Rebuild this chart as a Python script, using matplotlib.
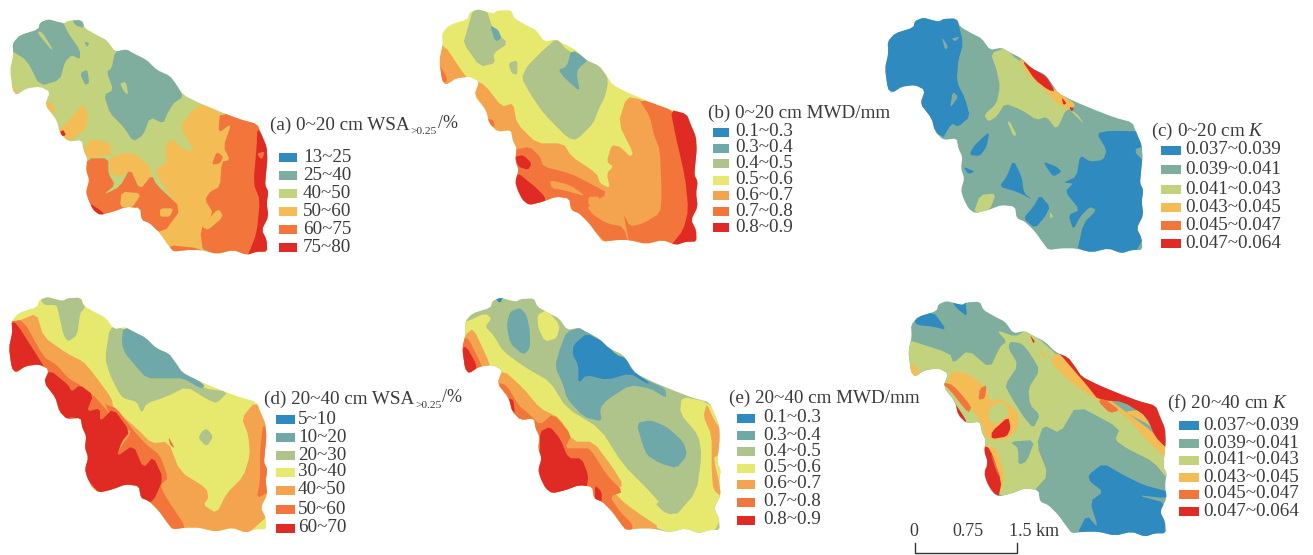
import matplotlib
matplotlib.use('Agg')
import matplotlib.pyplot as plt
from matplotlib.patches import Polygon, Rectangle
import numpy as np

plt.rcParams['font.family'] = ['Liberation Serif', 'DejaVu Sans']
plt.rcParams['mathtext.fontset'] = 'custom'
plt.rcParams['mathtext.rm'] = 'Liberation Serif'
plt.rcParams['mathtext.it'] = 'Liberation Serif:italic'

BLUE = '#2f8abf'
TEAL = '#7fae9f'
TEAL2 = '#6fa8a8'
LGREEN = '#c3d27c'
SAGE = '#aec48a'
YEL = '#e7e86e'
GOLD = '#f4bc55'
LOR = '#f4a44f'
ORG = '#f2763b'
RED = '#e02b24'

# catchment outline, in pixels of the 3x crop of panel a
outline = [(38,130),(60,105),(115,88),(120,68),(145,58),(170,65),(192,70),(205,62),(245,60),(255,85),
           (290,105),(320,120),(345,155),(380,148),(400,160),(440,180),(470,210),(510,228),(530,255),(550,285),
           (600,310),(660,335),(720,358),(772,372),(785,405),(800,440),(802,480),(798,520),(795,555),(805,575),
           (800,610),(805,650),(785,690),(800,720),(802,755),(770,755),(740,765),(700,750),(650,762),(600,750),
           (560,750),(520,755),(505,735),(480,700),(450,670),(425,660),(420,625),(380,620),(340,635),(300,645),
           (280,630),(265,600),(258,575),(268,540),(258,510),(262,475),(250,450),(245,420),(205,425),(180,400),
           (170,360),(135,315),(150,275),(120,260),(80,265),(50,285),(38,270),(30,210),(40,165)]

zones_a = [
    (GOLD, [(600,310),(660,335),(700,400),(660,620),(605,760),(500,745),(470,700),(540,630),(460,510),(500,490),(495,440),(515,415),(560,455),(580,450),(540,380),(570,340)]),
    (GOLD, [(330,470),(400,455),(460,510),(430,575),(390,510),(360,530),(330,520)]),
    (GOLD, [(250,450),(275,415),(330,430),(335,465),(290,470),(260,475)]),
    (GOLD, [(200,370),(250,310),(265,350),(255,390),(205,425),(175,390)]),
    (GOLD, [(25,245),(60,285),(25,295)]),
    (GOLD, [(135,310),(155,305),(170,345),(140,325)]),
    (TEAL, [(20,130),(60,105),(115,88),(120,55),(170,55),(192,72),(205,100),(240,150),(240,178),(215,165),(195,185),(180,240),(120,258),(80,180),(30,150)]),
    (TEAL, [(215,55),(255,55),(250,85),(225,75)]),
    (TEAL, [(345,155),(380,140),(440,175),(470,205),(510,222),(530,255),(550,290),(520,310),(500,345),(490,370),(450,352),(430,405),(400,425),(370,380),(330,340),(312,285),(340,270),(320,215),(335,205)]),
    (TEAL, [(240,220),(262,208),(268,250),(255,255)]),
    (TEAL, [(252,125),(268,128),(262,142)]),
    (LGREEN, [(360,250),(378,245),(385,285),(372,275)]),
    (LGREEN, [(110,95),(125,95),(160,150),(150,145)]),
    (ORG, [(660,335),(772,372),(815,400),(815,775),(610,760),(600,690),(640,640),(615,600),(630,575),(660,560),(665,485),(690,480),(670,440),(695,370),(655,400)]),
    (GOLD, [(605,680),(655,625),(670,650),(625,690)]),
    (ORG, [(635,495),(650,455),(670,470),(660,490)]),
    (RED, [(772,385),(790,410),(815,450),(815,775),(740,775),(770,700),(780,600),(760,550),(770,440)]),
    (ORG, [(770,460),(795,455),(785,480)]),
    (ORG, [(262,475),(325,475),(325,520),(345,555),(310,585),(360,560),(390,505),(420,570),(455,525),(470,555),(545,625),(490,700),(425,670),(420,620),(380,630),(340,650),(290,650),(245,580),(255,530)]),
    (GOLD, [(365,575),(425,580),(395,625),(360,620)]),
    (GOLD, [(480,625),(520,625),(510,650),(480,650)]),
    (RED, [(270,610),(300,630),(315,645),(285,655),(265,640)]),
    (RED, [(180,395),(190,390),(198,405),(185,410)]),
    (ORG, [(505,735),(600,745),(610,770),(510,770)]),
]

zones_b = [
    (LOR, [(40,100),(110,205),(130,210),(165,225),(215,290),(250,280),(260,340),(320,400),(400,400),(425,440),(500,490),(510,520),(540,535),(530,490),(550,470),(530,455),(545,405),(570,410),(600,440),(610,430),(565,340),(590,260),(640,270),(680,330),(720,700),(0,700),(0,120)]),
    (ORG, [(625,265),(730,300),(810,400),(810,710),(600,710),(580,610),(600,650),(640,640),(690,610),(695,560),(690,420),(670,370),(660,320)]),
    (ORG, [(250,420),(300,410),(330,440),(340,470),(420,490),(480,520),(535,550),(470,590),(490,615),(530,640),(580,650),(600,710),(530,700),(480,650),(430,610),(415,570),(345,585),(280,590),(240,520)]),
    (LOR, [(360,510),(420,525),(470,560),(400,540),(365,535)]),
    (LOR, [(475,560),(510,560),(500,590),(475,585)]),
    (RED, [(722,300),(770,305),(810,380),(810,710),(720,710),(760,660),(775,600),(765,500),(735,370)]),
    (RED, [(255,440),(280,435),(305,460),(295,480),(265,470)]),
    (RED, [(265,490),(290,510),(315,530),(345,560),(345,585),(280,590),(240,520)]),
    (ORG, [(20,150),(55,210),(30,230),(15,200)]),
    (ORG, [(170,325),(190,330),(195,350),(180,350)]),
    (SAGE, [(110,65),(130,-5),(170,0),(190,60),(235,100),(190,130),(195,160),(150,170),(100,100)]),
    (SAGE, [(235,160),(262,150),(262,195),(245,190)]),
    (SAGE, [(340,120),(380,85),(410,120),(475,150),(520,165),(535,215),(525,260),(505,300),(490,340),(440,390),(415,385),(340,310),(300,250),(275,205),(290,170)]),
    (TEAL2, [(180,45),(205,60),(215,85),(195,95)]),
    (TEAL2, [(425,118),(475,150),(445,175),(440,195),(450,245),(405,205),(385,180),(410,170)]),
]

zones_c = [
    (BLUE, [(0,60),(150,10),(260,20),(280,100),(265,150),(260,215),(285,265),(300,320),(265,350),(245,340),(215,390),(150,290),(165,240),(70,250),(0,200)]),
    (TEAL, [(215,80),(235,110),(225,120)]),
    (TEAL, [(245,85),(270,80),(255,95)]),
    (TEAL, [(248,245),(265,260),(240,295)]),
    (LGREEN, [(362,130),(410,112),(430,140),(460,160),(490,185),(555,255),(600,300),(645,345),(620,310),(590,295),(560,360),(530,320),(500,330),(455,300),(405,280),(380,320),(355,335),(342,315),(380,280),(390,230),(380,180)]),
    (GOLD, [(445,140),(490,175),(555,240),(620,285),(595,300),(560,280),(520,235),(470,190)]),
    (RED, [(455,150),(495,180),(530,200),(555,245),(535,240),(495,210)]),
    (RED, [(575,262),(590,280),(580,285)]),
    (RED, [(598,290),(612,295),(605,305)]),
    (LGREEN, [(412,335),(420,335),(440,375),(430,378)]),
    (LGREEN, [(310,610),(330,555),(378,550),(360,600)]),
    (LGREEN, [(540,605),(550,620),(540,625)]),
    (BLUE, [(680,370),(720,362),(830,365),(830,735),(620,730),(640,640),(680,600),(660,590),(630,620),(610,660),(595,615),(630,600),(585,545),(610,520),(580,518),(620,500),(630,435),(660,455),(700,450),(710,420)]),
    (TEAL, [(790,420),(830,405),(830,465)]),
    (BLUE, [(330,390),(358,365),(350,410),(330,438),(298,435),(310,410)]),
    (BLUE, [(280,470),(315,485),(295,492)]),
    (BLUE, [(430,450),(455,500),(462,550),(490,570),(440,545),(388,530),(410,500)]),
    (BLUE, [(520,455),(560,470),(575,485),(550,500),(535,480)]),
    (BLUE, [(510,555),(540,590),(525,620),(495,655),(460,625),(490,590)]),
]

zones_d = [
    (SAGE, [(115,25),(165,25),(255,25),(255,68),(240,85),(232,150),(205,170),(190,150),(175,80),(170,60),(130,60)]),
    (SAGE, [(330,125),(370,130),(540,260),(610,310),(685,320),(650,355),(625,345),(560,305),(500,335),(440,355),(425,385),(410,350),(370,340),(355,320),(330,270),(315,220)]),
    (TEAL2, [(370,125),(430,150),(470,190),(520,210),(545,255),(615,300),(605,312),(550,280),(500,280),(440,280),(400,235),(375,205),(365,175)]),
    (SAGE, [(605,440),(620,430),(640,455),(620,485),(595,460)]),
    (LOR, [(50,110),(110,85),(130,155),(200,205),(250,230),(280,265),(335,340),(340,370),(410,430),(455,475),(505,470),(540,560),(620,610),(625,640),(610,660),(650,685),(680,625),(730,575),(750,510),(745,450),(725,400),(765,350),(815,400),(815,745),(420,745),(0,400),(0,110)]),
    (ORG, [(20,110),(70,105),(130,215),(170,240),(205,280),(240,300),(290,340),(320,360),(350,370),(395,430),(440,480),(480,510),(505,580),(480,600),(500,640),(560,730),(530,745),(470,680),(0,500)]),
    (LOR, [(350,510),(375,430),(395,440),(360,490)]),
    (LOR, [(280,330),(310,345),(335,400),(320,375)]),
    (RED, [(30,110),(50,115),(110,210),(135,250),(100,240),(40,265),(0,200)]),
    (RED, [(150,255),(205,300),(215,320),(240,300),(280,330),(260,380),(300,370),(300,410),(340,370),(390,440),(365,470),(350,515),(400,480),(430,550),(460,515),(490,580),(460,650),(425,650),(420,620),(300,630),(245,560),(250,510),(240,410),(220,395),(190,405),(165,340),(130,290)]),
    (ORG, [(790,410),(810,480),(790,530),(810,560),(810,620),(770,640),(780,590),(780,500)]),
    (ORG, [(505,455),(525,490),(510,480)]),
]

zones_e = [
    (YEL, [(50,110),(105,85),(125,100),(105,125),(130,150),(160,200),(230,250),(300,290),(350,370),(450,430),(520,540),(600,620),(670,700),(740,620),(755,510),(745,450),(690,385),(695,335),(770,350),(820,400),(820,750),(640,750),(0,400),(0,120)]),
    (YEL, [(262,90),(290,75),(330,120),(320,160),(285,170),(265,130)]),
    (SAGE, [(615,655),(650,645),(675,670),(665,690),(640,680)]),
    (TEAL2, [(170,120),(180,80),(210,68),(230,90),(240,140),(240,190),(220,210),(180,175)]),
    (TEAL2, [(350,140),(400,125),(540,260),(600,290),(645,310),(650,340),(600,310),(540,300),(470,345),(450,370),(455,410),(400,395),(350,340),(340,300),(315,245),(330,190)]),
    (BLUE, [(410,145),(460,170),(500,210),(530,220),(545,255),(600,295),(590,295),(540,265),(470,285),(410,270),(385,295),(385,240),(368,210),(370,180)]),
    (TEAL2, [(560,415),(600,405),(650,425),(700,470),(712,510),(680,550),(630,535),(590,510),(575,470)]),
    (BLUE, [(130,35),(160,35),(150,55)]),
    (LOR, [(45,150),(70,130),(110,215),(125,255),(100,270),(0,260)]),
    (LOR, [(160,255),(220,310),(270,370),(330,400),(370,470),(430,470),(490,550),(520,600),(490,620),(530,660),(640,735),(530,755),(0,500),(130,290)]),
    (LOR, [(770,355),(790,400),(815,440),(805,510),(790,520),(820,640),(790,615),(785,560),(785,450),(760,395)]),
    (ORG, [(35,160),(55,160),(95,240),(100,270),(50,275),(0,200)]),
    (ORG, [(130,290),(170,300),(205,360),(240,390),(270,420),(310,385),(365,450),(345,490),(390,490),(420,490),(470,570),(520,620),(480,635),(510,680),(550,720),(540,745),(470,680),(430,660),(0,500)]),
    (RED, [(30,190),(50,185),(80,240),(75,270),(50,275),(0,230)]),
    (RED, [(270,440),(300,425),(330,460),(355,520),(395,520),(415,570),(410,610),(330,635),(285,630),(255,565),(270,500)]),
    (RED, [(435,600),(455,620),(455,655),(435,655)]),
    (RED, [(175,340),(190,345),(195,385),(180,370)]),
]

zones_f = [
    (LGREEN, [(40,160),(180,205),(190,235),(235,195),(300,250),(330,185),(350,170),(320,135),(375,155),(410,135),(470,180),(560,270),(620,345),(700,385),(790,470),(840,500),(840,590),(790,530),(710,490),(675,465),(690,430),(560,360),(510,445),(460,420),(440,480),(475,570),(430,620),(330,640),(290,560),(270,470),(200,410),(170,320),(150,300),(100,275),(40,275)]),
    (TEAL, [(360,170),(355,190),(385,240),(345,300),(360,330),(400,395),(430,430),(450,390),(420,360),(415,310),(450,255),(420,205),(395,175)]),
    (TEAL, [(360,470),(435,465),(410,530),(385,540),(385,490)]),
    (BLUE, [(70,100),(130,80),(170,135),(130,125),(80,120)]),
    (BLUE, [(180,40),(225,40),(232,95),(200,70)]),
    (BLUE, [(640,535),(700,570),(760,600),(835,620),(830,640),(740,630),(830,655),(835,760),(560,750),(590,690),(625,730),(600,650),(640,620),(600,590),(595,570)]),
    (GOLD, [(50,232),(85,250),(90,275),(50,275)]),
    (GOLD, [(190,255),(240,270),(280,300),(300,350),(330,340),(385,380),(385,430),(350,465),(290,465),(270,400),(210,340),(165,300)]),
    (LGREEN, [(300,365),(340,350),(360,390),(315,420),(295,400)]),
    (RED, [(305,440),(355,395),(362,430),(350,455),(305,462)]),
    (ORG, [(150,290),(190,300),(245,365),(235,385),(180,315)]),
    (RED, [(185,340),(225,400),(230,415),(195,395)]),
    (ORG, [(270,310),(290,300),(285,340),(265,345)]),
    (GOLD, [(285,480),(320,490),(345,570),(330,630),(300,560)]),
    (RED, [(275,480),(300,490),(335,590),(325,640),(270,570),(295,540)]),
    (ORG, [(300,500),(320,545),(330,580),(320,560)]),
    (GOLD, [(480,230),(500,200),(550,250),(640,330),(800,450),(835,490),(820,515),(780,475),(700,385),(620,345),(540,290)]),
    (RED, [(500,195),(540,215),(600,280),(700,315),(800,355),(835,430),(835,495),(795,455),(770,395),(700,350),(625,345),(590,300),(555,260)]),
    (ORG, [(640,340),(690,375),(660,385),(625,350)]),
    (GOLD, [(700,380),(750,375),(800,450),(780,420)]),
    (RED, [(420,150),(435,170),(430,175)]),
    (GOLD, [(445,195),(470,210),(465,220)]),
]

# panel: crop origin, outline shift in crop pixels, base colour, zones
panels = [
    ((0, 0), (0, 0), LGREEN, zones_a),
    ((430, 10), (-2, -60), YEL, zones_b),
    ((870, 10), (15, -35), TEAL, zones_c),
    ((0, 285), (-3, -22), YEL, zones_d),
    ((450, 285), (7, -20), SAGE, zones_e),
    ((890, 285), (25, -10), TEAL, zones_f),
]

titles = ['(a) 0~20 cm WSA', '(b) 0~20 cm MWD/mm', r'(c) 0~20 cm $\mathit{K}$',
          '(d) 20~40 cm WSA', '(e) 20~40 cm MWD/mm', r'(f) 20~40 cm $\mathit{K}$']
title_pos = [(270, 125), (708, 113), (1151, 131), (264, 399), (729, 398), (1167, 403)]

k_labels = ['0.037~0.039', '0.039~0.041', '0.041~0.043', '0.043~0.045', '0.045~0.047', '0.047~0.064']
mwd_labels = ['0.1~0.3', '0.3~0.4', '0.4~0.5', '0.5~0.6', '0.6~0.7', '0.7~0.8', '0.8~0.9']
legend_labels = [
    ['13~25', '25~40', '40~50', '50~60', '60~75', '75~80'],
    mwd_labels,
    k_labels,
    ['5~10', '10~20', '20~30', '30~40', '40~50', '50~60', '60~70'],
    mwd_labels,
    k_labels,
]
legend_colors = [
    [BLUE, TEAL, LGREEN, GOLD, ORG, RED],
    [BLUE, TEAL2, SAGE, YEL, LOR, ORG, RED],
    [BLUE, TEAL, LGREEN, GOLD, ORG, RED],
    [BLUE, TEAL2, SAGE, YEL, LOR, ORG, RED],
    [BLUE, TEAL2, SAGE, YEL, LOR, ORG, RED],
    [BLUE, TEAL, LGREEN, GOLD, ORG, RED],
]
legend_y = [
    [157, 175, 193, 211, 229, 247],
    [132, 148, 163, 180, 195, 211, 227],
    [150, 169, 189, 207, 225, 243],
    [419, 437, 455, 472, 490, 509, 528],
    [418, 435, 451, 468, 484, 502, 520],
    [425, 443, 460, 477, 494, 511],
]
legend_x = [(279, 297, 303), (713, 729, 735), (1161, 1181, 1185), (276, 295, 298), (737, 755, 763), (1179, 1199, 1203)]

scale_labels = ['0', '0.75', '1.5 km']
scale_label_x = [914, 968, 1034]

TEXT = '#3a3a3a'


def rounded(pts, cut=0.18):
    # one pass of corner cutting, keeps narrow zones from vanishing
    p = np.array(pts, dtype=float)
    q = np.roll(p, -1, axis=0)
    return np.column_stack([(1 - cut) * p + cut * q, cut * p + (1 - cut) * q]).reshape(-1, 2)


fig = plt.figure(figsize=(13.13, 5.55), dpi=100)
ax = fig.add_axes([0, 0, 1, 1])
ax.set_xlim(0, 1313)
ax.set_ylim(555, 0)
ax.axis('off')

for (ox, oy), (sx, sy), base, zones in panels:
    shape = rounded(np.array(outline) + [sx, sy]) / 3 + [ox, oy]
    clip = Polygon(shape, closed=True, fc=base, ec='none', zorder=1)
    ax.add_patch(clip)
    for i, (col, pts) in enumerate(zones):
        z = Polygon(rounded(pts) / 3 + [ox, oy], closed=True, fc=col, ec='none', zorder=2 + i * 0.01)
        ax.add_patch(z)
        z.set_clip_path(clip)

for i in range(6):
    t = ax.text(title_pos[i][0], title_pos[i][1], titles[i], fontsize=13.8, color=TEXT, va='center', ha='left')
    if 'WSA' in titles[i]:
        # subscript placed by hand, mathtext spaces it too wide
        x_end = t.get_window_extent(fig.canvas.get_renderer()).x1
        ax.text(x_end + 1, title_pos[i][1] + 6, '>0.25', fontsize=8.2, color=TEXT, va='center', ha='left')
        ax.text(x_end + 28, title_pos[i][1] - 1, '/%', fontsize=13, color=TEXT, va='center', ha='left')
    x0, x1, xt = legend_x[i]
    for lab, col, y in zip(legend_labels[i], legend_colors[i], legend_y[i]):
        ax.add_patch(Rectangle((x0, y - 4.5), x1 - x0, 9, fc=col, ec='none'))
        ax.text(xt, y, lab, fontsize=13.7, color=TEXT, va='center', ha='left')

for lab, x in zip(scale_labels, scale_label_x):
    ax.text(x, 532, lab, fontsize=13, color=TEXT, va='center', ha='center')
ax.plot([915, 915, 1017, 1017], [543, 553, 553, 543], color='#333333', lw=1)

fig.savefig('out.png', dpi=100)
